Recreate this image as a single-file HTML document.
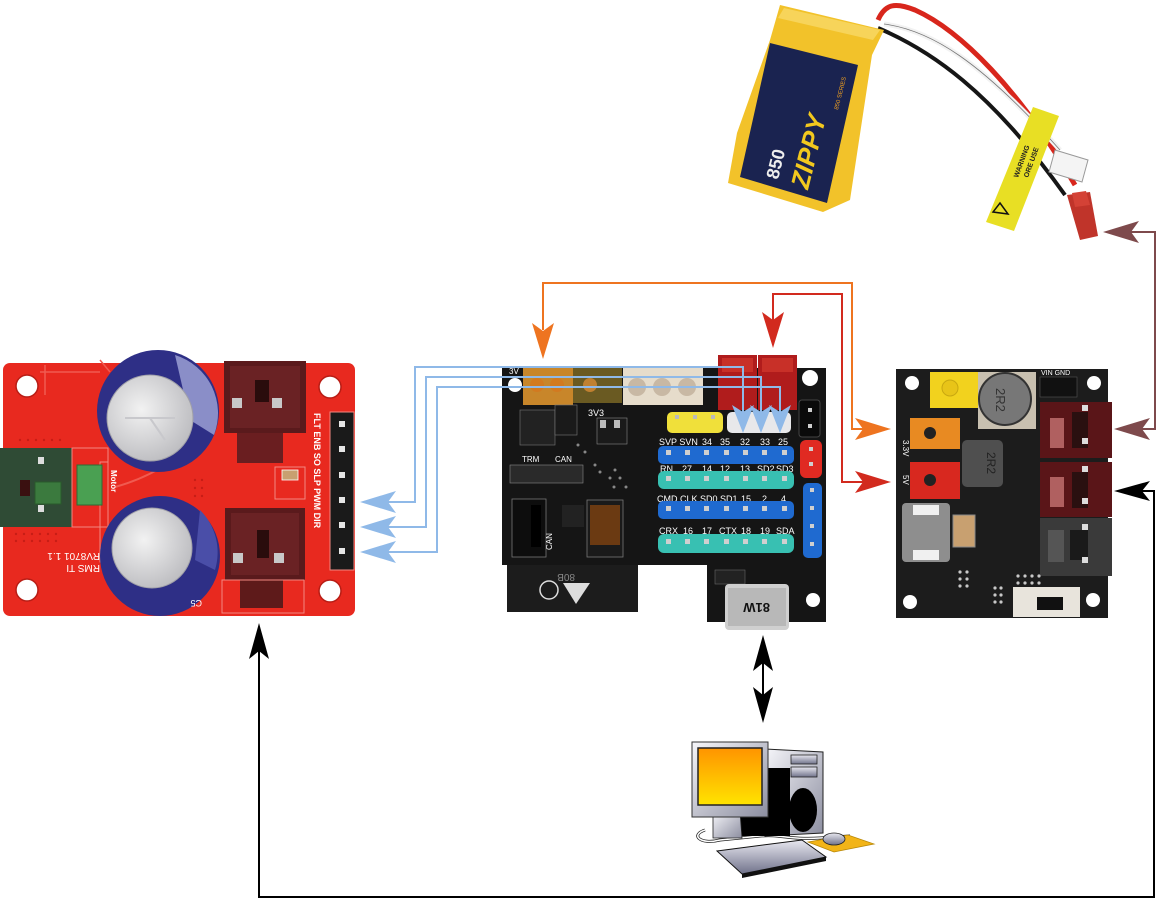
<!DOCTYPE html>
<html><head><meta charset="utf-8"><style>
html,body{margin:0;padding:0;background:#fff;}
svg{display:block;}
text{font-family:"Liberation Sans",sans-serif;}
</style></head><body>
<svg width="1156" height="899" viewBox="0 0 1156 899" xmlns="http://www.w3.org/2000/svg">
<defs>
 <linearGradient id="scr" x1="0" y1="0" x2="0" y2="1"><stop offset="0" stop-color="#ff9400"/><stop offset="1" stop-color="#ffe400"/></linearGradient>
 <linearGradient id="gry" x1="0" y1="0" x2="1" y2="1"><stop offset="0" stop-color="#f6f6fa"/><stop offset="1" stop-color="#8c8ea0"/></linearGradient>
 <linearGradient id="gry2" x1="0" y1="0" x2="0" y2="1"><stop offset="0" stop-color="#e8e8f0"/><stop offset="1" stop-color="#70728a"/></linearGradient>
 <radialGradient id="silver" cx="0.4" cy="0.4" r="0.7"><stop offset="0" stop-color="#f2f2f2"/><stop offset="1" stop-color="#b8b8bc"/></radialGradient>
</defs>

<!-- ================= BATTERY ================= -->
<path d="M878,20 C885,4 895,2 915,10 C960,30 1020,90 1075,185" fill="none" stroke="#d8261c" stroke-width="5"/>
<path d="M884,24 C930,30 980,60 1060,150" fill="none" stroke="#f2f2f2" stroke-width="5"/>
<path d="M884,24 C930,30 980,60 1060,150" fill="none" stroke="#777" stroke-width="0.8"/>
<path d="M878,28 C930,50 990,90 1065,195" fill="none" stroke="#161616" stroke-width="4"/>
<polygon points="1033,107 1059,116 1014,231 986,222" fill="#e8df24"/>
<polygon points="1000,203 1008,214 993,212" fill="none" stroke="#111" stroke-width="1.5"/>
<text x="0" y="0" font-size="7" font-weight="bold" fill="#222" transform="translate(1018,178) rotate(-70)">WARNING</text>
<text x="0" y="0" font-size="7" font-weight="bold" fill="#222" transform="translate(1028,178) rotate(-70)">ORE USE</text>
<polygon points="1055,150 1088,160 1082,182 1049,172" fill="#f4f4f4" stroke="#999" stroke-width="1"/>
<polygon points="1067,195 1090,192 1098,236 1080,240" fill="#c0342a"/>
<polygon points="1072,193 1086,191 1090,205 1075,207" fill="#d44236"/>
<polygon points="780,5 884,30 872,55 850,200 823,212 728,183 737,133 770,40" fill="#f2c22a"/>
<polygon points="784,8 880,30 873,40 778,18" fill="#f7d45a"/>
<polygon points="770,43 858,65 827,203 740,177" fill="#1a2350"/>
<text x="0" y="0" font-size="26" font-weight="bold" font-style="italic" fill="#f2c81e" transform="translate(808,190) rotate(-76)">ZIPPY</text>
<text x="0" y="0" font-size="18" font-weight="bold" fill="#eee" transform="translate(778,180) rotate(-76)">850</text>
<text x="0" y="0" font-size="6" fill="#f0a020" transform="translate(838,110) rotate(-76)">850 SERIES</text>

<!-- ================= LEFT RED BOARD ================= -->
<rect x="3" y="363" width="352" height="253" rx="7" fill="#e8291f"/>
<path d="M40,372 H100 M45,365 V395 M100,360 L110,372" stroke="#f05a50" stroke-width="1.5" fill="none"/>
<rect x="100" y="462" width="8" height="100" fill="none" stroke="#f28880" stroke-width="1"/>
<path d="M115,487 C140,480 160,470 180,455" stroke="#f05a50" stroke-width="2" fill="none"/>
<g fill="#c71d16">
 <circle cx="20" cy="440" r="1.2"/><circle cx="28" cy="440" r="1.2"/><circle cx="36" cy="440" r="1.2"/><circle cx="44" cy="440" r="1.2"/><circle cx="52" cy="440" r="1.2"/><circle cx="60" cy="440" r="1.2"/>
 <circle cx="16" cy="534" r="1.2"/><circle cx="24" cy="534" r="1.2"/><circle cx="32" cy="534" r="1.2"/><circle cx="40" cy="534" r="1.2"/><circle cx="48" cy="534" r="1.2"/><circle cx="56" cy="534" r="1.2"/>
 <circle cx="16" cy="541" r="1.2"/><circle cx="24" cy="541" r="1.2"/><circle cx="32" cy="541" r="1.2"/><circle cx="40" cy="541" r="1.2"/><circle cx="48" cy="541" r="1.2"/><circle cx="56" cy="541" r="1.2"/>
 <circle cx="195" cy="480" r="1.2"/><circle cx="202" cy="480" r="1.2"/><circle cx="195" cy="488" r="1.2"/><circle cx="202" cy="488" r="1.2"/><circle cx="195" cy="496" r="1.2"/><circle cx="202" cy="496" r="1.2"/>
</g>
<circle cx="27" cy="386" r="11" fill="#fff" stroke="#b81d15" stroke-width="1.5"/>
<circle cx="330" cy="387" r="11" fill="#fff" stroke="#b81d15" stroke-width="1.5"/>
<circle cx="27" cy="590" r="11" fill="#fff" stroke="#b81d15" stroke-width="1.5"/>
<circle cx="330" cy="591" r="11" fill="#fff" stroke="#b81d15" stroke-width="1.5"/>
<rect x="0" y="448" width="72" height="79" fill="#2f4b35"/>
<rect x="35" y="482" width="26" height="22" fill="#3b7a3e" stroke="#2a5a2c"/>
<rect x="20" y="480" width="10" height="16" fill="#3a1010"/>
<rect x="38" y="457" width="6" height="7" fill="#ddd"/>
<rect x="38" y="505" width="6" height="7" fill="#ddd"/>
<rect x="77" y="465" width="25" height="40" fill="#4aa052" stroke="#2d6d34"/>
<rect x="72" y="448" width="36" height="79" fill="none" stroke="#f28880" stroke-width="1"/>
<text x="0" y="0" font-size="8" font-weight="bold" fill="#fff" transform="translate(111,470) rotate(90)">Motor</text>
<circle cx="158" cy="411" r="61" fill="#2e2f86"/>
<path d="M175,355 A61,61 0 0 1 214,435 L190,420 Z" fill="#8a8ec8"/>
<circle cx="150" cy="418" r="43" fill="url(#silver)" stroke="#a0a0a8" stroke-width="1"/>
<path d="M125,418 H175 M150,418 L165,440" stroke="#c8c8cc" stroke-width="2" fill="none"/>
<circle cx="160" cy="556" r="60" fill="#2e2f86"/>
<path d="M200,510 A60,60 0 0 1 215,570 L195,560 Z" fill="#4a4ea8"/>
<circle cx="152" cy="548" r="40" fill="url(#silver)" stroke="#a0a0a8" stroke-width="1"/>
<rect x="224" y="361" width="82" height="72" fill="#5a1a1c"/>
<rect x="230" y="366" width="70" height="62" fill="#6a2224"/>
<rect x="255" y="380" width="14" height="22" fill="#2a0c0c"/>
<rect x="232" y="398" width="10" height="10" fill="#c8c8c8"/>
<rect x="272" y="398" width="10" height="10" fill="#c8c8c8"/>
<rect x="237" y="433" width="46" height="30" fill="#6a1e20"/>
<rect x="225" y="508" width="80" height="72" fill="#5a1a1c"/>
<rect x="231" y="513" width="68" height="62" fill="#6a2224"/>
<rect x="257" y="530" width="12" height="28" fill="#2a0c0c"/>
<rect x="233" y="553" width="10" height="10" fill="#c8c8c8"/>
<rect x="274" y="553" width="10" height="10" fill="#c8c8c8"/>
<rect x="240" y="580" width="43" height="28" fill="#5e1a1a"/>
<rect x="222" y="580" width="82" height="33" fill="none" stroke="#f28880" stroke-width="1"/>
<rect x="282" y="470" width="16" height="10" fill="#c8a070" stroke="#fff" stroke-width="0.8"/>
<rect x="275" y="467" width="30" height="32" fill="none" stroke="#f28880" stroke-width="1"/>
<rect x="330" y="412" width="24" height="158" fill="#1a1a1a" stroke="#f28880" stroke-width="1"/>
<g fill="#e6e6e6"><rect x="339" y="421" width="6" height="6"/><rect x="339" y="446" width="6" height="6"/><rect x="339" y="472" width="6" height="6"/><rect x="339" y="497" width="6" height="6"/><rect x="339" y="522" width="6" height="6"/><rect x="339" y="548" width="6" height="6"/></g>
<text x="0" y="0" font-size="9" font-weight="bold" fill="#fff" transform="translate(314,413) rotate(90)">FLT ENB SO SLP PWM DIR</text>
<text x="0" y="0" font-size="10" fill="#fff" transform="translate(100,553) rotate(180)">RV8701 1.1</text>
<text x="0" y="0" font-size="10" fill="#fff" transform="translate(100,565) rotate(180)">RMS TI</text>
<text x="0" y="0" font-size="9" fill="#fff" transform="translate(202,600) rotate(180)">C5</text>

<!-- ================= MIDDLE BOARD ================= -->
<path d="M502,368 H826 V622 H707 V565 H502 Z" fill="#151515"/>
<rect x="507" y="565" width="131" height="47" fill="#1c1c1c"/>
<text x="0" y="0" font-size="10" fill="#888" transform="translate(575,574) rotate(180)">80B</text>
<circle cx="549" cy="590" r="9" fill="none" stroke="#ddd" stroke-width="1.5"/>
<polygon points="563,583 590,583 576,604" fill="#ddd"/>
<circle cx="515" cy="385" r="7" fill="#fff"/>
<circle cx="810" cy="378" r="8" fill="#fff"/>
<circle cx="813" cy="600" r="7" fill="#fff"/>
<rect x="523" y="368" width="50" height="37" fill="#c8862a"/>
<circle cx="537" cy="385" r="7" fill="#d27a20"/><circle cx="557" cy="385" r="7" fill="#d27a20"/>
<rect x="573" y="368" width="49" height="35" fill="#6a5a22"/>
<circle cx="590" cy="385" r="7" fill="#c08030"/>
<rect x="623" y="368" width="80" height="37" fill="#e6dccb"/>
<circle cx="637" cy="387" r="9" fill="#c8b8a4"/><circle cx="662" cy="387" r="9" fill="#c8b8a4"/><circle cx="687" cy="387" r="9" fill="#c8b8a4"/>
<rect x="718" y="355" width="39" height="55" fill="#b01c1c"/>
<rect x="722" y="358" width="31" height="14" fill="#c83028"/>
<rect x="758" y="355" width="39" height="55" fill="#b01c1c"/>
<rect x="762" y="358" width="31" height="14" fill="#c83028"/>
<text x="588" y="416" font-size="9" fill="#fff">3V3</text>
<text x="509" y="374" font-size="8" fill="#fff">3V</text>
<rect x="520" y="410" width="35" height="35" fill="#222" stroke="#777" stroke-width="0.6"/>
<rect x="555" y="405" width="22" height="30" fill="#1a1a1a" stroke="#777" stroke-width="0.6"/>
<rect x="597" y="418" width="30" height="26" fill="#1a1a1a" stroke="#888" stroke-width="0.6"/>
<rect x="600" y="420" width="6" height="8" fill="#bbb"/><rect x="614" y="420" width="6" height="8" fill="#bbb"/>
<rect x="510" y="465" width="73" height="18" fill="#2a2a2a" stroke="#888" stroke-width="0.6"/>
<text x="522" y="462" font-size="8" fill="#fff">TRM</text><text x="555" y="462" font-size="8" fill="#fff">CAN</text>
<rect x="512" y="499" width="34" height="58" fill="#0d0d0d" stroke="#777" stroke-width="0.8"/>
<rect x="531" y="505" width="10" height="42" fill="#000"/>
<rect x="562" y="505" width="22" height="22" fill="#222"/>
<rect x="587" y="500" width="36" height="57" fill="#1a1a1a" stroke="#777" stroke-width="0.8"/>
<rect x="590" y="505" width="30" height="40" fill="#6b3a12"/>
<text x="0" y="0" font-size="8" fill="#fff" transform="translate(552,550) rotate(-90)">CAN</text>
<g fill="#888"><circle cx="578" cy="445" r="1.5"/><circle cx="585" cy="452" r="1.5"/><circle cx="595" cy="465" r="1.5"/><circle cx="600" cy="472" r="1.5"/><circle cx="610" cy="478" r="1.5"/><circle cx="615" cy="470" r="1.5"/><circle cx="620" cy="478" r="1.5"/><circle cx="626" cy="487" r="1.5"/><circle cx="614" cy="487" r="1.5"/></g>
<g font-size="9" fill="#fff">
<text x="659" y="445">SVP SVN</text><text x="702" y="445">34</text><text x="720" y="445">35</text><text x="740" y="445">32</text><text x="760" y="445">33</text><text x="778" y="445">25</text>
<text x="660" y="472">RN</text><text x="682" y="472">27</text><text x="702" y="472">14</text><text x="720" y="472">12</text><text x="740" y="472">13</text><text x="757" y="472">SD2</text><text x="776" y="472">SD3</text>
<text x="657" y="502">CMD CLK SD0 SD1</text><text x="741" y="502">15</text><text x="762" y="502">2</text><text x="781" y="502">4</text>
<text x="659" y="534">CRX</text><text x="683" y="534">16</text><text x="702" y="534">17</text><text x="719" y="534">CTX</text><text x="741" y="534">18</text><text x="760" y="534">19</text><text x="776" y="534">SDA</text>
</g>
<rect x="667" y="412" width="56" height="21" rx="5" fill="#f0e03a"/>
<rect x="727" y="412" width="64" height="21" rx="5" fill="#e8e8ea"/>
<g fill="#bbb"><rect x="675" y="415" width="4" height="4"/><rect x="693" y="415" width="4" height="4"/><rect x="711" y="415" width="4" height="4"/></g>
<g>
<rect x="658" y="446" width="136" height="18" rx="5" fill="#1f6ad0"/>
<rect x="658" y="471" width="136" height="18" rx="6" fill="#38c0b2"/>
<rect x="658" y="501" width="136" height="18" rx="5" fill="#1f6ad0"/>
<rect x="658" y="534" width="136" height="19" rx="6" fill="#38c0b2"/>
</g>
<g fill="#cfcfcf">
<rect x="666" y="450" width="5" height="5"/><rect x="685" y="450" width="5" height="5"/><rect x="704" y="450" width="5" height="5"/><rect x="724" y="450" width="5" height="5"/><rect x="743" y="450" width="5" height="5"/><rect x="762" y="450" width="5" height="5"/><rect x="782" y="450" width="5" height="5"/>
<rect x="666" y="476" width="5" height="5"/><rect x="685" y="476" width="5" height="5"/><rect x="704" y="476" width="5" height="5"/><rect x="724" y="476" width="5" height="5"/><rect x="743" y="476" width="5" height="5"/><rect x="762" y="476" width="5" height="5"/><rect x="782" y="476" width="5" height="5"/>
<rect x="666" y="506" width="5" height="5"/><rect x="685" y="506" width="5" height="5"/><rect x="704" y="506" width="5" height="5"/><rect x="724" y="506" width="5" height="5"/><rect x="743" y="506" width="5" height="5"/><rect x="762" y="506" width="5" height="5"/><rect x="782" y="506" width="5" height="5"/>
<rect x="666" y="539" width="5" height="5"/><rect x="685" y="539" width="5" height="5"/><rect x="704" y="539" width="5" height="5"/><rect x="724" y="539" width="5" height="5"/><rect x="743" y="539" width="5" height="5"/><rect x="762" y="539" width="5" height="5"/><rect x="782" y="539" width="5" height="5"/>
</g>
<rect x="799" y="400" width="21" height="37" rx="3" fill="#0a0a0a" stroke="#444"/>
<rect x="800" y="440" width="22" height="38" rx="6" fill="#e02a22"/>
<rect x="803" y="483" width="19" height="75" rx="5" fill="#1f6ad0"/>
<g fill="#cfcfcf"><rect x="808" y="408" width="4" height="4"/><rect x="808" y="424" width="4" height="4"/><rect x="809" y="447" width="4" height="4"/><rect x="809" y="462" width="4" height="4"/><rect x="810" y="488" width="4" height="4"/><rect x="810" y="506" width="4" height="4"/><rect x="810" y="524" width="4" height="4"/><rect x="810" y="542" width="4" height="4"/></g>
<rect x="715" y="570" width="30" height="14" fill="#222" stroke="#666" stroke-width="0.6"/>
<rect x="725" y="584" width="64" height="46" rx="4" fill="#cfcfcf"/>
<rect x="728" y="588" width="58" height="38" fill="#b8b8b8"/>
<text x="0" y="0" font-size="13" font-weight="bold" fill="#111" transform="translate(770,603) rotate(180)">81W</text>

<!-- ================= RIGHT BOARD ================= -->
<rect x="896" y="369" width="212" height="249" fill="#1c1c1c"/>
<circle cx="912" cy="383" r="7" fill="#fff"/>
<circle cx="1094" cy="383" r="7" fill="#fff"/>
<circle cx="910" cy="602" r="7" fill="#fff"/>
<circle cx="1093" cy="600" r="7" fill="#fff"/>
<rect x="930" y="372" width="48" height="36" fill="#f2d21e"/>
<circle cx="950" cy="388" r="8" fill="#e8c418" stroke="#c9a810"/>
<rect x="978" y="372" width="58" height="57" fill="#c8c0b0"/>
<circle cx="1005" cy="399" r="26" fill="#777" stroke="#333" stroke-width="2"/>
<text x="0" y="0" font-size="13" fill="#333" transform="translate(996,388) rotate(90)">2R2</text>
<rect x="1040" y="377" width="37" height="20" fill="#111" stroke="#555" stroke-width="0.6"/>
<text x="1041" y="375" font-size="7" fill="#fff">VIN GND</text>
<rect x="910" y="418" width="50" height="31" fill="#e88a22"/>
<circle cx="930" cy="433" r="6" fill="#222"/>
<rect x="910" y="462" width="50" height="37" fill="#d8281f"/>
<circle cx="930" cy="480" r="6" fill="#222"/>
<rect x="962" y="440" width="41" height="47" rx="5" fill="#4f4f4f"/>
<text x="0" y="0" font-size="12" fill="#222" transform="translate(987,452) rotate(90)">2R2</text>
<rect x="902" y="503" width="48" height="59" rx="4" fill="#8e8e8e"/>
<rect x="913" y="505" width="26" height="10" fill="#f0f0f0"/>
<rect x="913" y="550" width="26" height="10" fill="#f0f0f0"/>
<rect x="953" y="515" width="22" height="32" fill="#c8a070" stroke="#888"/>
<text x="0" y="0" font-size="8" fill="#fff" transform="translate(903,440) rotate(90)">3.3V</text>
<text x="0" y="0" font-size="8" fill="#fff" transform="translate(903,475) rotate(90)">5V</text>
<rect x="1040" y="402" width="72" height="56" fill="#5a1518"/>
<rect x="1050" y="418" width="14" height="30" fill="#b06060"/>
<rect x="1072" y="412" width="16" height="36" fill="#2a1010"/>
<rect x="1040" y="462" width="72" height="55" fill="#5a1518"/>
<rect x="1050" y="477" width="14" height="30" fill="#b06060"/>
<rect x="1072" y="472" width="16" height="36" fill="#2a1010"/>
<rect x="1040" y="518" width="72" height="58" fill="#3a3a3a"/>
<rect x="1048" y="530" width="16" height="32" fill="#555"/>
<rect x="1070" y="530" width="18" height="30" fill="#1a1a1a"/>
<g fill="#ddd"><rect x="1082" y="405" width="6" height="6"/><rect x="1082" y="438" width="6" height="6"/><rect x="1082" y="466" width="6" height="6"/><rect x="1082" y="498" width="6" height="6"/><rect x="1082" y="524" width="6" height="6"/><rect x="1082" y="557" width="6" height="6"/></g>
<rect x="1013" y="587" width="67" height="30" fill="#e8e4dc"/>
<rect x="1037" y="597" width="26" height="13" fill="#111"/>
<g fill="#c8c8c8"><circle cx="1018" cy="576" r="1.6"/><circle cx="1025" cy="576" r="1.6"/><circle cx="1032" cy="576" r="1.6"/><circle cx="1039" cy="576" r="1.6"/><circle cx="1018" cy="583" r="1.6"/><circle cx="1025" cy="583" r="1.6"/><circle cx="1032" cy="583" r="1.6"/><circle cx="1039" cy="583" r="1.6"/><circle cx="960" cy="572" r="1.6"/><circle cx="967" cy="572" r="1.6"/><circle cx="960" cy="579" r="1.6"/><circle cx="967" cy="579" r="1.6"/><circle cx="960" cy="586" r="1.6"/><circle cx="967" cy="586" r="1.6"/><circle cx="995" cy="588" r="1.6"/><circle cx="1001" cy="588" r="1.6"/><circle cx="995" cy="595" r="1.6"/><circle cx="1001" cy="595" r="1.6"/><circle cx="995" cy="602" r="1.6"/><circle cx="1001" cy="602" r="1.6"/></g>

<!-- ================= COMPUTER ================= -->
<path d="M705,830 C690,835 700,845 720,840 L760,836 C780,834 790,840 820,838 L850,836" fill="none" stroke="#222" stroke-width="3"/>
<path d="M705,830 C690,835 700,845 720,840 L760,836 C780,834 790,840 820,838 L850,836" fill="none" stroke="#fff" stroke-width="1.5"/>
<polygon points="765,749 823,752 823,833 765,836" fill="url(#gry)" stroke="#222" stroke-width="1"/>
<polygon points="740,768 790,768 790,836 740,836" fill="#000"/>
<rect x="791" y="755" width="26" height="9" fill="url(#gry2)" stroke="#222" stroke-width="0.8"/>
<rect x="791" y="767" width="26" height="10" fill="url(#gry2)" stroke="#222" stroke-width="0.8"/>
<ellipse cx="803" cy="810" rx="14" ry="22" fill="#000"/>
<polygon points="713,812 740,812 742,838 713,838" fill="url(#gry)" stroke="#222" stroke-width="0.8"/>
<rect x="692" y="742" width="76" height="75" fill="url(#gry)" stroke="#333" stroke-width="1"/>
<rect x="698" y="748" width="64" height="57" fill="url(#scr)" stroke="#222" stroke-width="1.5"/>
<polygon points="717,851 802,840 826,857 742,874" fill="url(#gry2)" stroke="#111" stroke-width="1"/>
<polygon points="742,874 826,857 826,861 742,878" fill="#111"/>
<polygon points="808,842 848,835 874,844 834,852" fill="#f2b418" stroke="#b88808" stroke-width="0.8"/>
<ellipse cx="834" cy="839" rx="11" ry="6" fill="url(#gry2)" stroke="#222" stroke-width="0.8"/>

<!-- ================= CONNECTORS ================= -->
<g fill="none" stroke="#8fb9e8" stroke-width="2">
<path d="M387,502 H415 V367 H743 V412"/>
<path d="M387,527 H426 V377 H761 V412"/>
<path d="M387,552 H437 V387 H780 V412"/>
</g>
<g fill="#8fb9e8">
<polygon points="360,502 396,491 388,502 396,513"/>
<polygon points="360,527 396,516 388,527 396,538"/>
<polygon points="360,552 396,541 388,552 396,563"/>
<polygon points="743,433 732,405 743,412 754,405"/>
<polygon points="761,433 750,405 761,412 772,405"/>
<polygon points="780,433 769,405 780,412 791,405"/>
</g>
<path d="M543,330 V283 H852 V429 H864" fill="none" stroke="#ee7420" stroke-width="2"/>
<polygon points="543,359 532,323 543,331 554,323" fill="#ee7420"/>
<polygon points="891,429 855,418 863,429 855,440" fill="#ee7420"/>
<path d="M773,320 V294 H842 V482 H864" fill="none" stroke="#d22a1e" stroke-width="2"/>
<polygon points="773,348 762,312 773,320 784,312" fill="#d22a1e"/>
<polygon points="891,482 855,471 863,482 855,493" fill="#d22a1e"/>
<path d="M1130,232 H1155 V429 H1141" fill="none" stroke="#7e4a4c" stroke-width="2"/>
<polygon points="1103,232 1139,221 1131,232 1139,243" fill="#7e4a4c"/>
<polygon points="1114,429 1150,418 1142,429 1150,440" fill="#7e4a4c"/>
<path d="M1140,491 H1154 V897 H259 V650" fill="none" stroke="#000" stroke-width="2"/>
<polygon points="1114,491 1150,481 1142,491 1150,501" fill="#000"/>
<polygon points="259,623 249,659 259,651 269,659" fill="#000"/>
<path d="M763,660 V700" fill="none" stroke="#000" stroke-width="2"/>
<polygon points="763,635 753,671 763,663 773,671" fill="#000"/>
<polygon points="763,723 753,687 763,695 773,687" fill="#000"/>
</svg>
</body></html>
